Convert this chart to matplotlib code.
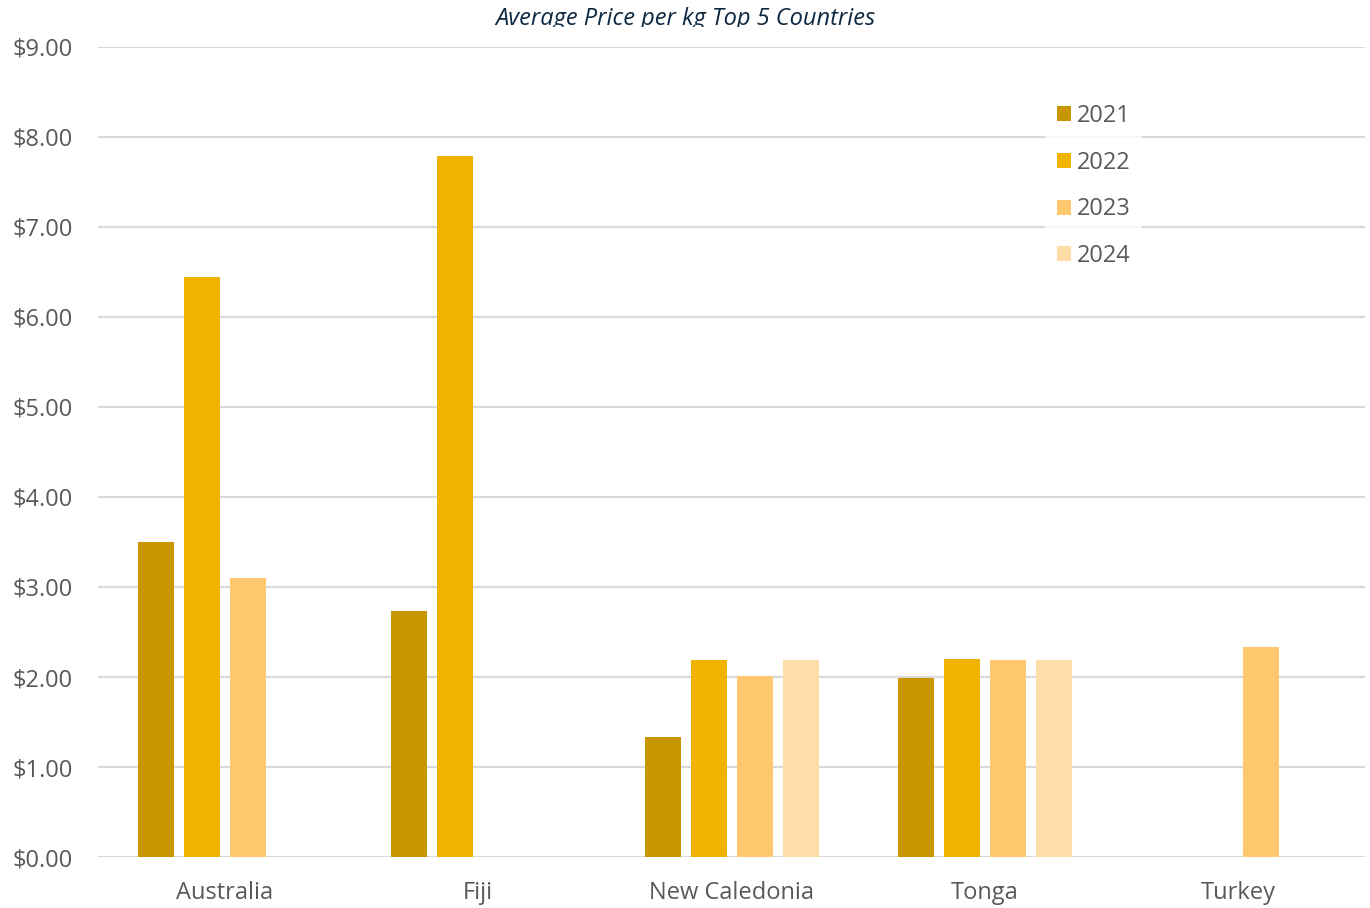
import matplotlib.pyplot as plt
import matplotlib.patches as mpatches
import numpy as np

plt.rcParams['font.family'] = ['Open Sans', 'DejaVu Sans']
plt.rcParams['font.size'] = 17

countries = ['Australia', 'Fiji', 'New Caledonia', 'Tonga', 'Turkey']
years = ['2021', '2022', '2023', '2024']
v2021 = [3.50, 2.73, 1.33, 1.99, np.nan]
v2022 = [6.44, 7.79, 2.19, 2.20, np.nan]
v2023 = [3.10, np.nan, 2.01, 2.19, 2.33]
v2024 = [np.nan, np.nan, 2.19, 2.19, np.nan]
yticks = [0, 1, 2, 3, 4, 5, 6, 7, 8, 9]

colors = ['#C89600', '#F0B400', '#FFC86E', '#FFDCA8']
txt_color = '#595959'

fig = plt.figure(figsize=(13.7, 9.08), dpi=100)
ax = fig.add_axes([98/1370, 1-857/908, (1365-98)/1370, (857-47)/908])

x = np.arange(len(countries))
slot = 46/253.4
width = 36/253.4
series = [v2021, v2022, v2023, v2024]
for i, vals in enumerate(series):
  offs = (i - 1.5) * slot
  ax.bar(x + offs, vals, width=width, color=colors[i], label=years[i], zorder=2)

ax.set_xlim(-0.5, len(countries) - 0.5)
ax.set_ylim(0, 9)
ax.set_yticks(yticks)
ax.set_yticklabels([f'${t:.2f}' for t in yticks], color=txt_color, fontsize=17)
ax.set_xticks(x)
ax.set_xticklabels(countries, color=txt_color, fontsize=17)
ax.tick_params(axis='both', length=0)
ax.tick_params(axis='y', pad=18)
ax.tick_params(axis='x', pad=17)
ax.yaxis.grid(color='#D9D9D9', linewidth=1.6, zorder=0)
ax.set_axisbelow(True)
for s in ax.spines.values():
  s.set_visible(False)

leg = ax.legend(loc='upper left', bbox_to_anchor=(935/1267, 1-33/810), frameon=True,
                fontsize=17, handlelength=0.6, handleheight=0.6, labelspacing=0.97,
                borderpad=0.5, handletextpad=0.25, labelcolor=txt_color)
leg.get_frame().set_facecolor('white')
leg.get_frame().set_edgecolor('white')
leg.get_frame().set_linewidth(0)

fig.text(0.5, 1-25/908, 'Average Price per kg Top 5 Countries', ha='center', va='baseline',
         fontsize=17, style='italic', color='#0E2841')
# title is cut off at its bottom in the original
fig.patches.append(mpatches.Rectangle((440/1370, 1-40/908), 500/1370, 13/908, transform=fig.transFigure,
                                      facecolor='white', edgecolor='none', zorder=5))

fig.savefig('out.png', dpi=100)
